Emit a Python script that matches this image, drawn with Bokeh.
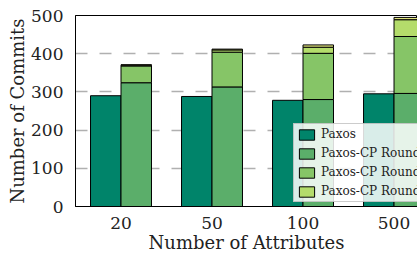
import numpy as np
from bokeh.plotting import figure
from bokeh.models import ColumnDataSource, FixedTicker, Legend, LegendItem, Range1d
from bokeh.transform import dodge
from bokeh.embed import file_html
from bokeh.resources import INLINE

# ---- data ----
categories = ["20", "50", "100", "500"]
paxos = [290, 288, 278, 295]
cp_round1 = [324, 313, 280, 296]
cp_round2 = [44, 91, 121, 149]
cp_round3 = [2, 6, 16, 44]
cp_rest = [1, 2, 6, 6]
series_labels = ["Paxos", "Paxos-CP Round 1", "Paxos-CP Round 2", "Paxos-CP Round 3"]
colors = ["#00846a", "#5bae6a", "#86c567", "#b4dc6b", "#dfe37c"]
y_ticks = [0, 100, 200, 300, 400, 500]

FONT = "DejaVu Serif"
W = 0.335

src = ColumnDataSource(dict(
    x=list(range(len(categories))),
    paxos=paxos, r1=cp_round1, r2=cp_round2, r3=cp_round3, rest=cp_rest,
))

p = figure(width=417, height=255, output_backend="svg", toolbar_location=None,
           x_range=Range1d(-0.5, 3.258), y_range=Range1d(0, 500),
           min_border_left=75, min_border_right=0, min_border_top=15, min_border_bottom=49)

r_p = p.vbar(x=dodge("x", -W / 2), top="paxos", width=W, source=src,
             fill_color=colors[0], line_color="black", line_width=1)
stack = p.vbar_stack(["r1", "r2", "r3", "rest"], x=dodge("x", W / 2), width=W, source=src,
                     fill_color=colors[1:], line_color="black", line_width=1)

legend = Legend(items=[
    LegendItem(label=series_labels[0], renderers=[r_p]),
    LegendItem(label=series_labels[1], renderers=[stack[0]]),
    LegendItem(label=series_labels[2], renderers=[stack[1]]),
    LegendItem(label=series_labels[3], renderers=[stack[2]]),
], location=(218, 4))
legend.label_text_font = FONT
legend.label_text_font_size = "12px"
legend.label_text_color = "#222222"
legend.glyph_width = 19
legend.glyph_height = 13
legend.label_height = 13
legend.spacing = 5
legend.padding = 3
legend.margin = 0
legend.label_standoff = 5
legend.border_line_color = "#999999"
legend.border_line_width = 1
legend.background_fill_alpha = 0.85
p.add_layout(legend, "center")

# axes
p.xaxis.ticker = FixedTicker(ticks=list(range(len(categories))))
p.xaxis.major_label_overrides = {i: c for i, c in enumerate(categories)}
p.yaxis.ticker = FixedTicker(ticks=y_ticks)
for ax in (p.xaxis[0], p.yaxis[0]):
    ax.major_label_text_font = FONT
    ax.major_label_text_font_size = "17px"
    ax.major_label_text_color = "#222222"
    ax.axis_label_text_font = FONT
    ax.axis_label_text_font_size = "18px"
    ax.axis_label_text_font_style = "normal"
    ax.axis_label_text_color = "#222222"
    ax.axis_line_color = "black"
    ax.axis_line_width = 1
    ax.major_tick_line_color = None
    ax.minor_tick_line_color = None
p.xaxis.major_label_standoff = 4
p.yaxis.major_label_standoff = 6
p.xaxis.axis_label = "Number of Attributes"
p.yaxis.axis_label = "Number of Commits"
p.xaxis.axis_label_standoff = 0
p.yaxis.axis_label_standoff = 0

p.xgrid.grid_line_color = None
p.ygrid.ticker = FixedTicker(ticks=y_ticks)
p.ygrid.grid_line_color = "#b0b0b0"
p.ygrid.grid_line_width = 1.3
p.ygrid.grid_line_dash = "12 12"
p.outline_line_color = "black"
p.outline_line_width = 1
p.background_fill_color = "white"

open("out.html", "w").write(file_html(p, INLINE))
